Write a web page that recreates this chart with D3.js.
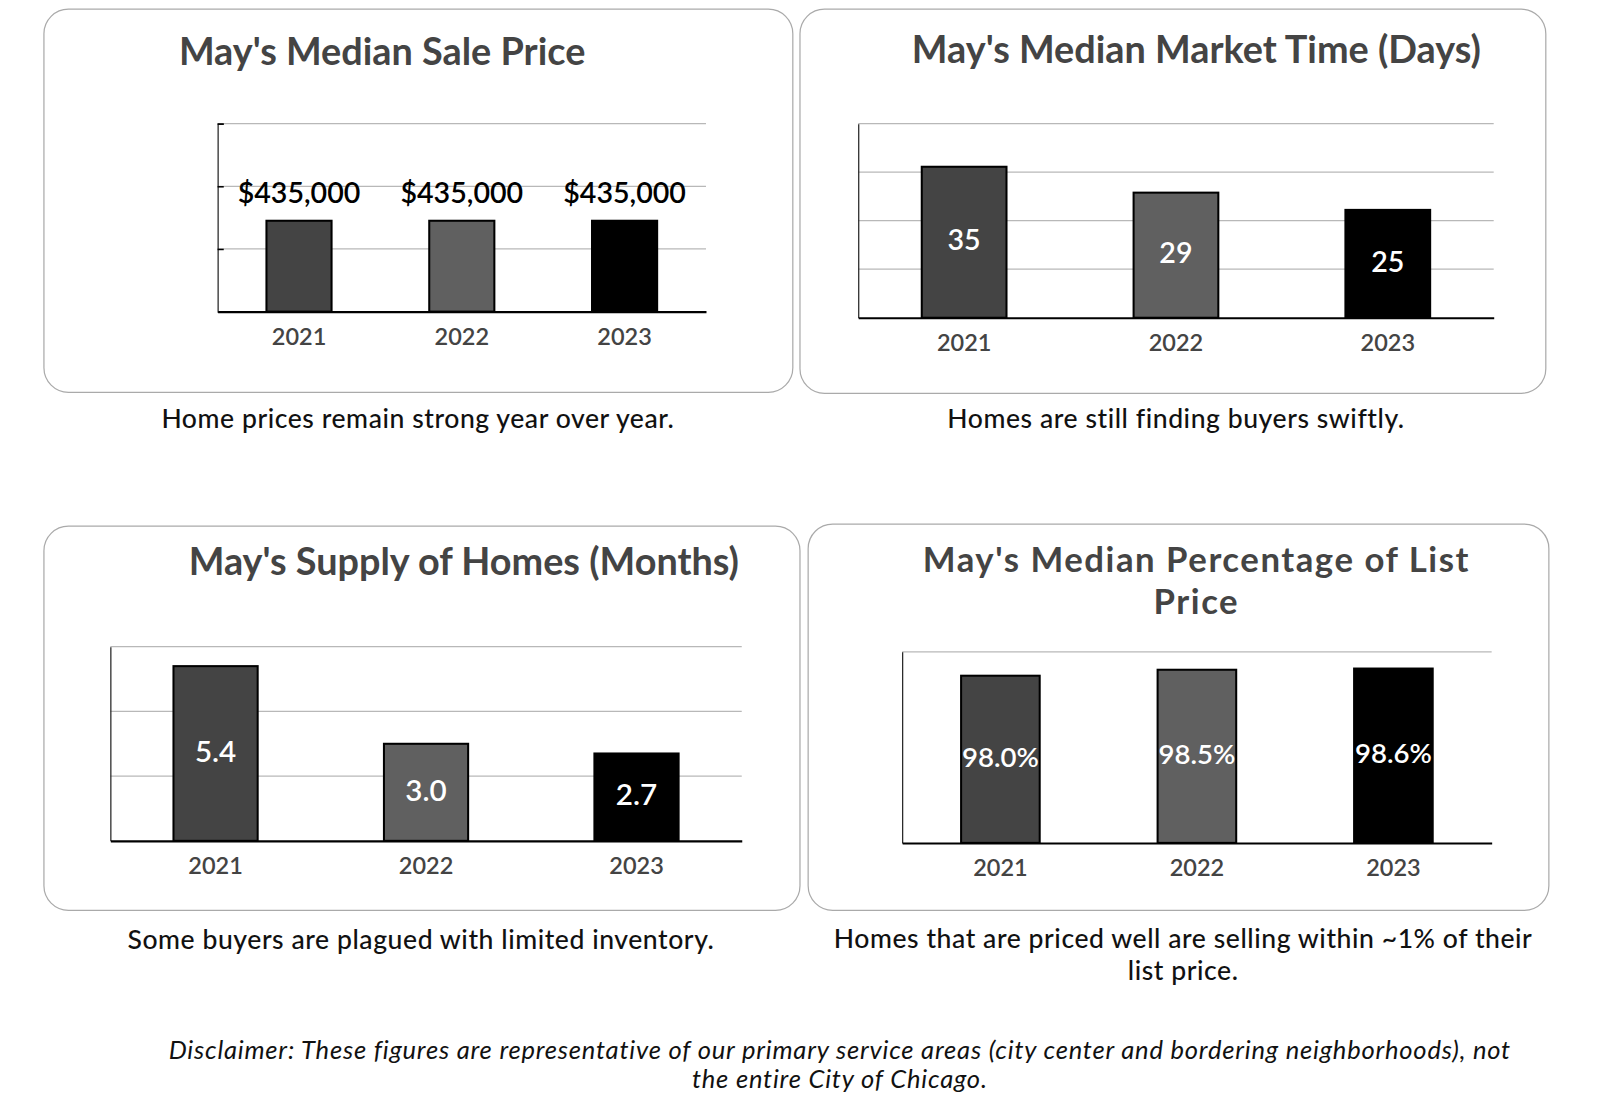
<!DOCTYPE html>
<html>
<head>
<meta charset="utf-8">
<script src="https://cdn.jsdelivr.net/npm/d3@7"></script>
<style>
  body { margin: 0; background: #fff; }
  svg { display: block; font-family: Lato, "Open Sans", sans-serif; }
  .title { font-weight: 700; fill: #444; font-size: 37px; }
  .caption { fill: #111; font-size: 26px; font-weight: 500; letter-spacing: 0.55px; }
  .year text { fill: #444; font-size: 23px; font-weight: 600; }
  .disclaimer { font-style: italic; font-size: 25px; fill: #111; letter-spacing: 0.78px; }
</style>
</head>
<body>
<div id="chart"></div>
<script>
// chart values
var years = ['2021', '2022', '2023'];
var salePrice = [435000, 435000, 435000];
var marketDays = [35, 29, 25];
var supplyMonths = [5.4, 3.0, 2.7];
var listPct = [98.0, 98.5, 98.6];
var barFills = ['#444444', '#606060', '#000000'];

var svgWidth = 1602;
var svgHeight = 1120;
// layout below was measured on a 1568 px wide copy of the picture
var k = svgWidth / 1568;

var root = d3.select('#chart')
  .append('svg')
  .attr('width', svgWidth)
  .attr('height', svgHeight);

var svg = root.append('g').attr('transform', 'scale(' + k + ')');

// one entry per card
var panels = [
  {
    box: [43, 9, 733, 375],
    title: ["May's Median Sale Price"], titleX: 374, titleY: 51,
    plot: [213, 691, 121, 305],
    values: salePrice, domain: [0, 900000], grid: [300000, 600000, 900000],
    tickMarks: true,
    label: 'above', labelSize: 28, fmt: function(d) { return '$' + d3.format(',')(d); },
    caption: ['Home prices remain strong year over year.'], capX: 409, capY: 410
  },
  {
    box: [783, 9, 730, 376],
    title: ["May's Median Market Time (Days)"], titleX: 1171, titleY: 49,
    plot: [840, 1462, 121, 311],
    values: marketDays, domain: [0, 45], grid: [11.25, 22.5, 33.75, 45],
    label: 'inside', labelSize: 28, fmt: function(d) { return d; },
    caption: ['Homes are still finding buyers swiftly.'], capX: 1151, capY: 410
  },
  {
    box: [43, 515, 740, 376],
    title: ["May's Supply of Homes (Months)"], titleX: 454, titleY: 550,
    plot: [108, 726, 633, 823],
    values: supplyMonths, domain: [0, 6], grid: [2, 4, 6],
    label: 'inside', labelSize: 29, fmt: d3.format('.1f'),
    caption: ['Some buyers are plagued with limited inventory.'], capX: 412, capY: 920
  },
  {
    box: [791, 513, 725, 378],
    title: ["May's Median Percentage of List", 'Price'], titleX: 1171, titleY: 548,
    titleSize: 34, titleSpacing: 1.5,
    plot: [883, 1460, 638, 825],
    values: listPct, domain: [84, 100], grid: [100],
    label: 'inside', labelSize: 27, fmt: function(d) { return d3.format('.1f')(d) + '%'; },
    caption: ['Homes that are priced well are selling within ~1% of their', 'list price.'],
    capX: 1158, capY: 919
  }
];

panels.forEach(function(p) {
  var g = svg.append('g');

  // card outline
  g.append('rect')
    .attr('x', p.box[0]).attr('y', p.box[1])
    .attr('width', p.box[2]).attr('height', p.box[3])
    .attr('rx', 24).attr('ry', 24)
    .attr('fill', '#fff')
    .attr('stroke', '#aaa')
    .attr('stroke-width', 1.2);

  // title; the long one wraps onto a second line
  p.title.forEach(function(t, i) {
    var tt = g.append('text')
      .attr('class', 'title')
      .attr('x', p.titleX)
      .attr('y', p.titleY + i * 41)
      .attr('dy', '0.35em')
      .attr('text-anchor', 'middle')
      .text(t);
    if (p.titleSize) {
      tt.style('font-size', p.titleSize + 'px')
        .style('letter-spacing', p.titleSpacing + 'px');
    }
  });

  var x = d3.scaleBand()
    .domain(years)
    .range([p.plot[0], p.plot[1]])
    .paddingInner(0.6)
    .paddingOuter(0.3);

  var y = d3.scaleLinear()
    .domain(p.domain)
    .range([p.plot[3], p.plot[2]]);

  // gridlines
  g.append('g')
    .selectAll('line')
    .data(p.grid)
    .enter()
    .append('line')
    .attr('x1', p.plot[0]).attr('x2', p.plot[1])
    .attr('y1', function(d) { return y(d); })
    .attr('y2', function(d) { return y(d); })
    .attr('stroke', '#b8b8b8')
    .attr('stroke-width', 1.2);

  // left axis line (ticks only on the first card)
  var leftAxis = d3.axisRight(y)
    .tickValues(p.grid)
    .tickSize(p.tickMarks ? 6 : 0)
    .tickFormat('');
  var la = g.append('g')
    .attr('transform', 'translate(' + p.plot[0] + ',0)')
    .call(leftAxis);
  la.select('.domain').attr('stroke', '#222').attr('stroke-width', 1.2);
  la.selectAll('.tick line').attr('stroke', '#000').attr('stroke-width', 1.5);

  // bars
  g.append('g')
    .selectAll('rect')
    .data(p.values)
    .enter()
    .append('rect')
    .attr('x', function(d, i) { return x(years[i]); })
    .attr('y', function(d) { return y(d); })
    .attr('width', x.bandwidth())
    .attr('height', function(d) { return y(p.domain[0]) - y(d); })
    .attr('fill', function(d, i) { return barFills[i]; })
    .attr('stroke', '#000')
    .attr('stroke-width', 2);

  // bottom axis with year labels
  var bottomAxis = d3.axisBottom(x).tickSize(0).tickPadding(16);
  var ba = g.append('g')
    .attr('class', 'year')
    .attr('transform', 'translate(0,' + p.plot[3] + ')')
    .call(bottomAxis);
  ba.select('.domain').attr('stroke', '#000').attr('stroke-width', 2);
  ba.selectAll('text').style('font-family', 'Lato, sans-serif');

  // value labels
  g.append('g')
    .selectAll('text')
    .data(p.values)
    .enter()
    .append('text')
    .attr('x', function(d, i) { return x(years[i]) + x.bandwidth() / 2; })
    .attr('y', function(d) {
      if (p.label === 'above') return y(d) - 27;
      return (y(d) + y(p.domain[0])) / 2 - 2;
    })
    .attr('dy', '0.35em')
    .attr('text-anchor', 'middle')
    .attr('font-size', p.labelSize)
    .attr('font-weight', 600)
    .attr('fill', p.label === 'above' ? '#000' : '#fff')
    .text(p.fmt);

  // caption under the card
  p.caption.forEach(function(t, i) {
    svg.append('text')
      .attr('class', 'caption')
      .attr('x', p.capX)
      .attr('y', p.capY + i * 31)
      .attr('dy', '0.35em')
      .attr('text-anchor', 'middle')
      .text(t);
  });
});

// disclaimer
var disclaimer = [
  'Disclaimer: These figures are representative of our primary service areas (city center and bordering neighborhoods), not',
  'the entire City of Chicago.'
];
svg.selectAll('.disclaimer')
  .data(disclaimer)
  .enter()
  .append('text')
  .attr('class', 'disclaimer')
  .attr('x', 822)
  .attr('y', function(d, i) { return 1028 + i * 28; })
  .attr('dy', '0.35em')
  .attr('text-anchor', 'middle')
  .text(function(d) { return d; });
</script>
</body>
</html>
